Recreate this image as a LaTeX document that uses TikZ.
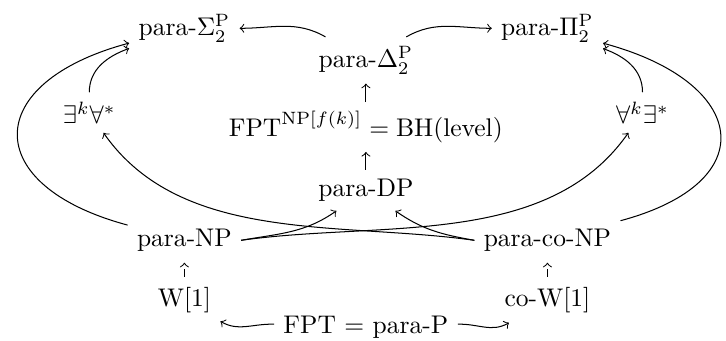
\documentclass[tikz,border=0pt]{standalone}
\usepackage{amsmath}
\begin{document}
\begin{tikzpicture}[>=to, every node/.style={inner sep=3.5pt},
    punteada/.style={->, densely dashed, shorten >=0.7pt, shorten <=0.7pt}]
  \useasboundingbox (-5.04,0) rectangle (4.96,4.69);
  % las clases de arriba
  \node (sigma) at (-2.5,4.30) {para-$\Sigma_2^{\mathrm{P}}$};
  \node (pi) at (2.5,4.30) {para-$\Pi_2^{\mathrm{P}}$};
  \node (delta) at (0,3.86) {para-$\Delta_2^{\mathrm{P}}$};
  \node (fptnp) at (0,2.94) {$\mathrm{FPT}^{\mathrm{NP}[f(k)]} = \mathrm{BH}(\mathrm{level})$};
  \node (dp) at (0,2.07) {para-DP};
  \node (ek) at (-3.81,3.14) {$\exists^k\forall^*$};
  \node (ak) at (3.81,3.14) {$\forall^k\exists^*$};
  % las clases de abajo
  \node (np) at (-2.5,1.38) {para-NP};
  \node (conp) at (2.5,1.38) {para-co-NP};
  \node (w1) at (-2.5,0.55) {W[1]};
  \node (cow1) at (2.5,0.55) {co-W[1]};
  \node (fpt) at (0,0.18) {FPT = para-P};
  % la columna del medio
  \draw[->] (dp) -- (fptnp);
  \draw[->] (fptnp) -- (delta);
  \draw[->] (delta) to[out=150, in=0] (sigma);
  \draw[->] (delta) to[out=30, in=180] (pi);
  % los lados
  \draw[->] (ek) to[out=90, in=200] (sigma);
  \draw[->] (ak) to[out=90, in=-20] (pi);
  \draw[->] (np) to[out=165, in=195, looseness=2.15] (sigma);
  \draw[->] (conp) to[out=15, in=-15, looseness=2.15] (pi);
  % los cruces
  \draw[->] (np.east) to[out=8, in=-125, looseness=0.9] (ak);
  \draw[->] (conp.west) to[out=172, in=-55, looseness=0.9] (ek);
  \draw[->] (np.east) to[out=10, in=-145] (dp);
  \draw[->] (conp.west) to[out=170, in=-35] (dp);
  % abajo del todo
  \draw[punteada] (w1) -- (np);
  \draw[punteada] (cow1) -- (conp);
  \draw[->] (fpt) to[out=178, in=-30] (w1);
  \draw[->] (fpt) to[out=2, in=210] (cow1);
\end{tikzpicture}
\end{document}
